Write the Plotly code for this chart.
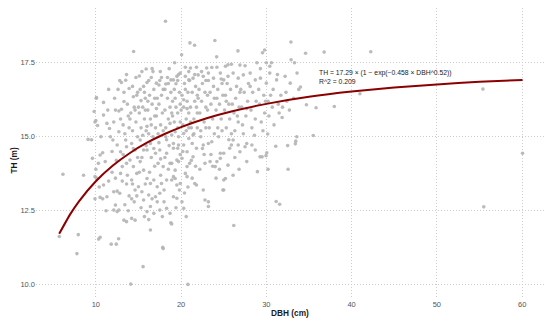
import plotly.graph_objects as go

# ---- scatter data (DBH in cm, TH in m) ----
pts_outliers = [
    (5.71, 11.63), (6.14, 13.73), (7.78, 11.05), (7.94, 11.69), (8.56, 13.7), (9.09, 14.91), (10.07, 16.32),
    (55.5, 12.63), (60.05, 14.44), (55.4, 16.61), (34.6, 17.82), (35.83, 15.98), (35.5, 15.04), (36.78, 17.86),
    (37.97, 16.02), (40.97, 16.45), (42.25, 17.87), (34.7, 16.08), (34.0, 16.68),
]
pts_9_13 = [
    (9.8, 15.85), (9.9, 15.5), (9.6, 14.27), (9.9, 13.65), (9.5, 14.9), (9.9, 12.9), (10.0, 13.9),
    (10.05, 16.3), (10.9, 16.16), (10.9, 15.73), (10.0, 15.55), (10.2, 15.38), (10.5, 14.38), (10.8, 14.46),
    (10.1, 13.6), (10.4, 13.3), (10.9, 13.37), (10.33, 11.54), (10.5, 11.6), (10.6, 15.0), (10.3, 14.1),
    (10.8, 12.9), (10.5, 12.95),
    (11.7, 15.0), (12.0, 14.89), (11.1, 14.16), (11.3, 12.97), (11.6, 15.28), (11.8, 11.37), (11.5, 16.6),
    (11.4, 15.9), (11.9, 13.8), (11.2, 12.5), (11.5, 13.5), (11.9, 14.5), (11.3, 15.45),
    (12.3, 15.9), (12.7, 15.87), (12.1, 13.14), (12.5, 13.16), (12.8, 13.09), (12.3, 12.69), (12.1, 12.52),
    (12.5, 12.47), (12.7, 12.52), (12.4, 11.37), (12.67, 11.55), (12.7, 15.17), (12.9, 14.49), (12.5, 14.72),
    (12.9, 13.76), (12.2, 16.3), (12.6, 16.6), (12.8, 16.9), (12.4, 14.2), (12.1, 15.5), (12.9, 15.6), (12.3, 13.6),
]
pts_13_17 = [
    (13.0, 16.83), (13.5, 16.91), (13.3, 16.19), (13.0, 15.93), (13.9, 16.63), (13.1, 13.99), (13.6, 14.1),
    (13.6, 13.4), (13.3, 12.18), (13.6, 12.13), (13.6, 14.66), (13.5, 14.89), (13.2, 15.4), (13.8, 15.7),
    (13.4, 15.1), (13.7, 16.1), (13.2, 14.4), (13.9, 13.0), (13.4, 12.7), (13.8, 12.5), (13.1, 13.5),
    (13.7, 13.7), (13.3, 16.5), (13.9, 15.3), (13.6, 17.1),
    (14.4, 16.35), (14.8, 16.4), (14.43, 17.88), (14.2, 12.24), (14.6, 12.18), (14.2, 13.54), (14.6, 13.2),
    (14.0, 14.21), (14.4, 13.99), (14.8, 13.76), (14.2, 14.77), (14.6, 14.55), (14.1, 10.02), (14.3, 15.2),
    (14.7, 15.5), (14.1, 15.8), (14.5, 16.0), (14.9, 15.0), (14.3, 16.7), (14.7, 17.0), (14.9, 14.3),
    (14.5, 12.8), (14.2, 12.9), (14.8, 13.0), (14.4, 14.6), (14.0, 15.6), (14.6, 15.9), (14.9, 16.5), (14.3, 13.4),
    (15.1, 17.05), (15.9, 17.29), (15.3, 16.22), (15.0, 13.31), (15.4, 13.14), (15.2, 14.16), (15.6, 13.87),
    (15.6, 12.86), (15.6, 14.55), (15.2, 14.89), (16.0, 16.83), (15.54, 10.61), (15.3, 15.3), (15.7, 15.6),
    (15.1, 15.8), (15.5, 16.0), (15.8, 16.3), (15.2, 16.6), (15.6, 16.7), (15.9, 15.2), (15.4, 14.3),
    (15.8, 13.4), (15.3, 12.6), (15.7, 12.3), (15.1, 13.8), (15.5, 15.05), (15.9, 14.7), (15.4, 17.2),
    (15.7, 16.5), (15.0, 16.0), (15.8, 15.9),
    (16.6, 17.3), (16.0, 13.59), (16.4, 13.42), (16.8, 13.54), (16.2, 13.03), (16.0, 12.47), (16.8, 12.41),
    (16.4, 11.85), (16.4, 12.64), (16.0, 14.55), (16.4, 14.77), (16.2, 15.1), (16.5, 15.4), (16.9, 15.7),
    (16.1, 15.9), (16.6, 16.1), (16.3, 16.4), (16.8, 16.6), (16.2, 16.9), (16.7, 17.2), (16.5, 14.3),
    (16.9, 14.0), (16.3, 13.8), (16.7, 15.0), (16.1, 16.2), (16.9, 16.3), (16.4, 15.6), (16.6, 12.9),
    (16.2, 12.2), (16.8, 14.6), (16.5, 17.0), (16.0, 15.35),
]
pts_17_21 = [
    (17.56, 17.2), (17.1, 16.81), (17.4, 16.75), (17.2, 13.31), (17.0, 12.97), (17.5, 13.09), (17.2, 12.8),
    (17.5, 12.52), (17.7, 13.42), (17.9, 13.99), (17.5, 14.55), (17.0, 14.44), (17.84, 11.26), (17.9, 11.22),
    (17.3, 15.1), (17.6, 15.4), (17.1, 15.7), (17.8, 15.8), (17.4, 16.1), (17.7, 16.4), (17.2, 16.3),
    (17.9, 16.6), (17.3, 14.1), (17.6, 13.7), (17.8, 12.3), (17.1, 15.95), (17.5, 16.9), (17.9, 15.2),
    (17.4, 14.8), (17.7, 17.0), (17.0, 15.3), (17.6, 14.25),
    (18.2, 16.78), (18.8, 16.92), (18.17, 18.9), (18.3, 12.58), (18.7, 12.41), (18.3, 13.54), (18.7, 14.1),
    (18.3, 14.44), (18.8, 12.09), (18.9, 12.05), (18.9, 13.54), (18.9, 14.1), (18.9, 15.06), (18.2, 15.3),
    (18.5, 15.6), (18.1, 15.9), (18.7, 16.0), (18.4, 16.3), (18.8, 16.5), (18.1, 16.6), (18.6, 17.3),
    (18.3, 14.9), (18.6, 14.7), (18.0, 13.2), (18.5, 13.9), (18.2, 15.0), (18.9, 15.8), (18.4, 17.0),
    (18.7, 15.45), (18.1, 14.3), (18.5, 16.8), (18.0, 12.8),
    (19.24, 17.5), (19.4, 16.79), (19.7, 17.1), (19.1, 13.65), (19.5, 13.37), (19.3, 13.87), (19.7, 14.16),
    (19.1, 14.61), (19.7, 14.72), (19.3, 15.17), (19.7, 15.0), (19.1, 14.77), (19.6, 14.61), (19.1, 12.97),
    (19.5, 12.92), (19.3, 13.59), (19.5, 14.21), (19.1, 16.92), (19.5, 17.04), (19.9, 17.15), (19.2, 15.5),
    (19.6, 15.8), (19.9, 16.1), (19.3, 16.3), (19.8, 16.5), (19.4, 16.0), (19.0, 15.7), (19.6, 15.3),
    (19.9, 15.5), (19.2, 16.6), (19.8, 13.2), (19.4, 12.6), (19.9, 14.4), (19.6, 16.9), (19.0, 16.2),
    (20.06, 17.77), (20.3, 15.11), (20.9, 14.94), (20.3, 14.72), (20.7, 14.49), (20.1, 12.8), (20.3, 12.58),
    (19.9, 13.42), (20.5, 13.76), (20.7, 13.65), (20.1, 14.27), (20.7, 13.99), (21.0, 14.1), (20.8, 10.01),
    (20.5, 17.35), (20.5, 17.04), (20.9, 16.92), (20.2, 15.4), (20.6, 15.6), (20.9, 15.8), (20.3, 16.0),
    (20.7, 16.2), (20.1, 16.4), (20.5, 16.6), (20.8, 16.5), (20.4, 16.8), (20.0, 15.9), (20.6, 15.2),
    (20.9, 15.3), (20.2, 14.5), (20.8, 13.3), (20.4, 13.1), (20.6, 12.3), (20.9, 17.2), (20.3, 16.25), (20.7, 15.95),
]
pts_21_25 = [
    (21.04, 18.17), (21.58, 18.09), (21.4, 15.06), (21.3, 14.77), (21.8, 14.61), (21.6, 13.42), (21.8, 13.37),
    (21.4, 14.32), (21.1, 17.32), (21.8, 17.35), (21.4, 16.98), (21.2, 15.3), (21.5, 15.6), (21.9, 15.8),
    (21.1, 16.0), (21.6, 16.2), (21.3, 16.5), (21.7, 16.7), (21.0, 16.9), (21.9, 16.4), (21.5, 15.1),
    (21.2, 14.2), (21.7, 14.0), (21.3, 13.6), (21.9, 15.3), (21.6, 17.1), (21.1, 15.5), (21.8, 16.0),
    (22.0, 17.09), (22.6, 17.04), (23.0, 17.32), (22.6, 14.72), (22.8, 14.1), (22.6, 13.2), (22.8, 12.86),
    (22.3, 15.2), (22.7, 15.5), (22.2, 15.8), (22.9, 16.0), (22.4, 16.2), (22.8, 16.5), (22.1, 16.6),
    (22.5, 16.8), (22.9, 16.9), (22.3, 15.0), (22.7, 14.4), (22.2, 13.9), (22.5, 14.6), (22.9, 15.3),
    (22.0, 16.3), (22.4, 17.2),
    (23.2, 14.77), (23.6, 14.83), (23.4, 14.16), (23.2, 12.8), (23.2, 12.64), (23.96, 18.25), (23.2, 17.15),
    (23.6, 17.34), (23.8, 16.98), (23.3, 15.3), (23.7, 15.6), (23.1, 15.9), (23.5, 16.1), (23.9, 16.3),
    (23.4, 16.5), (23.8, 16.7), (23.1, 16.4), (24.0, 13.99), (23.5, 14.4), (23.9, 15.1), (23.2, 16.9), (23.7, 14.0),
    (24.17, 17.7), (24.2, 17.35), (24.6, 17.15), (24.6, 14.44), (24.2, 14.16), (24.6, 14.27), (24.3, 15.3),
    (24.7, 15.6), (24.1, 15.9), (24.5, 16.1), (24.9, 16.4), (24.3, 16.6), (24.8, 16.8), (24.4, 15.0),
    (24.8, 15.2), (24.1, 13.6), (24.9, 13.2), (24.5, 13.9), (24.2, 16.3), (24.7, 16.95),
]
pts_25_34 = [
    (25.0, 16.92), (25.2, 17.38), (25.5, 17.43), (25.5, 17.04), (25.0, 14.44), (25.7, 14.61), (25.9, 14.72),
    (25.0, 13.54), (25.2, 13.59), (25.0, 13.2), (25.5, 14.04), (25.9, 17.45), (25.3, 15.3), (25.7, 15.6),
    (25.1, 15.9), (25.6, 16.1), (25.2, 16.4), (25.8, 16.6), (25.4, 16.8), (25.9, 15.1), (25.6, 14.9), (25.3, 16.2),
    (26.1, 17.15), (26.7, 16.98), (26.9, 17.42), (26.67, 17.9), (26.7, 14.72), (26.9, 14.49), (26.1, 14.89),
    (26.1, 13.7), (26.18, 12.0), (26.3, 15.2), (26.7, 15.5), (26.2, 15.8), (26.8, 16.0), (26.4, 16.3),
    (26.9, 16.5), (26.5, 16.7), (26.0, 16.1), (26.6, 15.7), (26.3, 14.3), (26.8, 13.9),
    (27.3, 17.09), (27.5, 17.4), (27.5, 14.66), (27.7, 14.77), (27.7, 14.16), (27.2, 15.4), (27.6, 15.7),
    (27.1, 16.0), (27.8, 16.2), (27.4, 16.5), (27.9, 16.8), (27.3, 15.1), (27.7, 15.95), (27.0, 16.6),
    (28.1, 17.15), (28.7, 16.92), (28.9, 17.5), (28.3, 14.72), (28.7, 14.55), (28.95, 13.82), (28.3, 15.3),
    (28.7, 15.6), (28.2, 15.9), (28.8, 16.2), (28.4, 16.5), (28.6, 15.05), (28.1, 16.7),
    (29.3, 16.98), (29.55, 17.84), (29.8, 17.93), (30.0, 17.5), (29.26, 14.32), (29.5, 14.32), (29.96, 14.36),
    (29.4, 15.5), (29.8, 15.8), (29.2, 16.1), (29.7, 16.4), (29.1, 16.6), (29.9, 16.2), (29.6, 15.2),
    (30.0, 16.81), (29.3, 17.3),
    (30.4, 17.38), (30.4, 17.15), (30.16, 15.09), (30.2, 13.9), (30.05, 14.46), (30.3, 15.7), (30.7, 16.0),
    (30.5, 16.4), (30.8, 16.6), (30.2, 16.2), (30.9, 15.4), (30.6, 17.5),
    (31.2, 16.92), (31.1, 14.68), (31.85, 15.65), (31.15, 12.81), (31.56, 12.72), (31.4, 16.1), (31.7, 16.4),
    (31.3, 17.1), (31.9, 16.0), (31.5, 15.8),
    (32.2, 17.04), (32.8, 16.81), (32.88, 18.2), (32.5, 14.7), (32.55, 13.9), (32.4, 16.2), (32.7, 15.9),
    (32.3, 16.5), (32.9, 17.6),
    (33.6, 17.15), (33.45, 14.85), (33.4, 14.76), (33.57, 15.0), (33.2, 16.3), (33.8, 16.6), (33.3, 17.5),
]

# ---- fitted curve TH = 17.29*(1-exp(-0.458*DBH^0.52)), values at chosen DBH ----
fit_dbh = [5.7, 7, 8, 10, 12, 14, 16, 18, 20, 23, 26, 30, 35, 40, 45, 50, 55, 60.05]
fit_th = [11.72, 12.385, 12.81, 13.495, 14.027, 14.451, 14.797, 15.084, 15.326, 15.623,
          15.860, 16.110, 16.348, 16.526, 16.662, 16.769, 16.854, 16.92]

eq_text = "TH = 17.29 × (1 − exp(−0.458 × DBH^0.52))"
r2_text = "R^2 = 0.209"
x_title = "DBH (cm)"
y_title = "TH (m)"
x_ticks = [10, 20, 30, 40, 50, 60]
y_ticks = [10.0, 12.5, 15.0, 17.5]

all_pts = pts_outliers + pts_9_13 + pts_13_17 + pts_17_21 + pts_21_25 + pts_25_34
dbh = [p[0] for p in all_pts]
th = [p[1] for p in all_pts]

FONT = "Liberation Sans, Arial, sans-serif"

fig = go.Figure()
fig.add_trace(go.Scatter(
    x=dbh, y=th, mode="markers",
    marker=dict(size=3.6, color="rgba(180,180,180,0.9)", line=dict(width=0)),
    hoverinfo="skip", showlegend=False,
))
fig.add_trace(go.Scatter(
    x=fit_dbh, y=fit_th, mode="lines",
    line=dict(color="#8B0000", width=2, shape="spline", smoothing=0.6),
    hoverinfo="skip", showlegend=False,
))

fig.add_annotation(x=35.9, y=17.17, text=eq_text, showarrow=False, xanchor="left", yanchor="middle",
                   font=dict(family=FONT, size=6.8, color="#1a1a1a"))
fig.add_annotation(x=35.9, y=16.86, text=r2_text, showarrow=False, xanchor="left", yanchor="middle",
                   font=dict(family=FONT, size=6.8, color="#1a1a1a"))

L, R, T, B = 35.5, 3.6, 8.4, 28.4
W, H = 550, 326
pw, ph = W - L - R, H - T - B

# axis titles placed as paper annotations (positions given in page pixels)
fig.add_annotation(x=(290 - L) / pw, y=1 - (313 - T) / ph, xref="paper", yref="paper",
                   text=f"<b>{x_title}</b>", showarrow=False,
                   xanchor="center", yanchor="middle", font=dict(family=FONT, size=8.3, color="#1a1a1a"))
fig.add_annotation(x=(13 - L) / pw, y=1 - (160 - T) / ph, xref="paper", yref="paper",
                   text=f"<b>{y_title}</b>", showarrow=False, textangle=-90,
                   xanchor="center", yanchor="middle", font=dict(family=FONT, size=8.3, color="#1a1a1a"))

axis_common = dict(
    showline=False, zeroline=False, ticks="", automargin=False,
    showgrid=True, gridcolor="#cccccc", gridwidth=1, griddash="1px,2px",
    tickfont=dict(family=FONT, size=7.5, color="#555555"),
)
fig.update_xaxes(range=[2.98, 62.8], tickvals=x_ticks, ticktext=[str(v) for v in x_ticks], **axis_common)
fig.update_yaxes(range=[9.55, 19.35], tickvals=y_ticks, ticktext=[f"{v:.1f}" for v in y_ticks], **axis_common)

fig.update_layout(
    width=W, height=H,
    margin=dict(l=L, r=R, t=T, b=B, autoexpand=False),
    paper_bgcolor="white", plot_bgcolor="white",
    showlegend=False,
)

fig.write_html("out.html", config={"displayModeBar": False, "staticPlot": True},
               post_script="document.body.style.margin='0';document.body.style.overflow='hidden';")
